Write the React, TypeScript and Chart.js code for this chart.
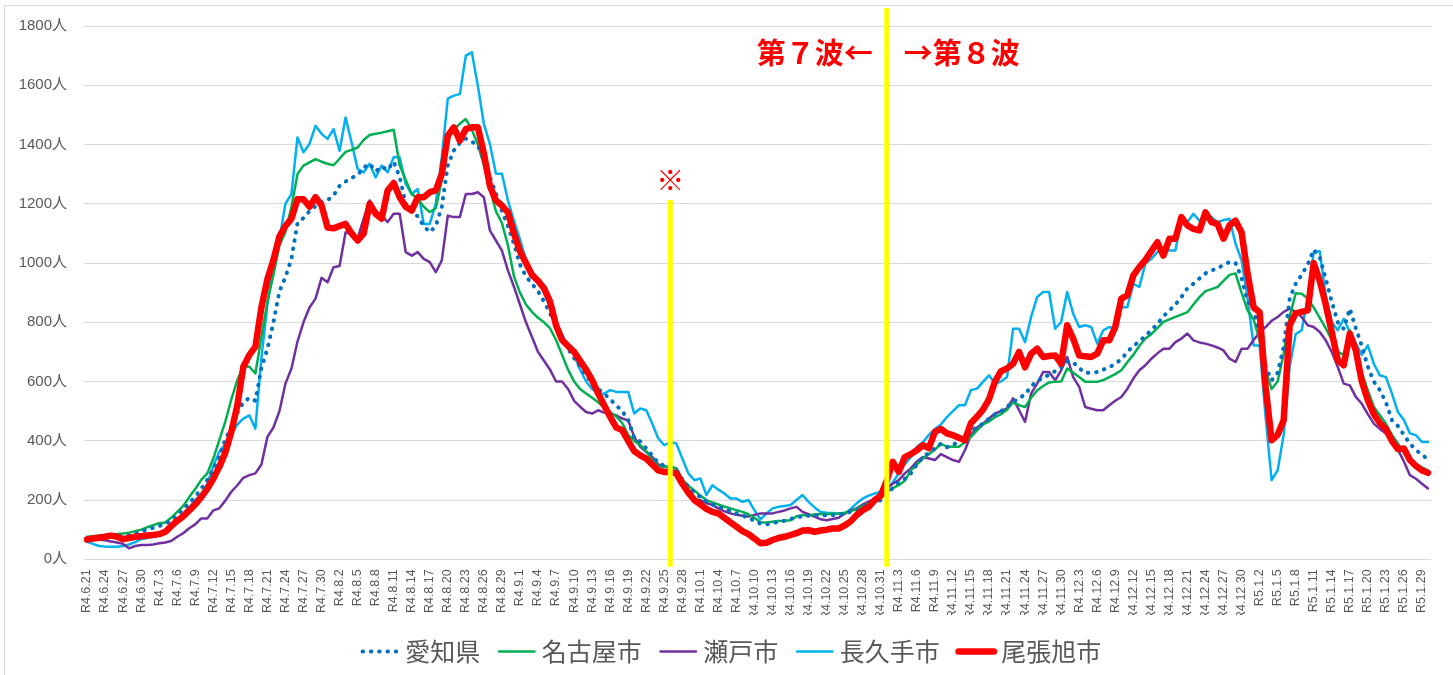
import React, { useEffect, useRef } from 'react';
import { Chart, registerables } from 'chart.js';

Chart.register(...registerables);

const FONT = '"Liberation Sans", "Noto Sans CJK JP", sans-serif';
const CJK = '"Noto Sans CJK JP", "Liberation Sans", sans-serif';
const TICK_COLOR = '#595959';

function buildDateLabels(): string[] {
  const out: string[] = [];
  const d = new Date(Date.UTC(2022, 5, 21));
  const end = new Date(Date.UTC(2023, 0, 30));
  while (d.getTime() <= end.getTime()) {
    out.push(`R${d.getUTCFullYear() - 2018}.${d.getUTCMonth() + 1}.${d.getUTCDate()}`);
    d.setUTCDate(d.getUTCDate() + 1);
  }
  return out;
}

const dateLabels = buildDateLabels();

const seriesNames = ['愛知県', '名古屋市', '瀬戸市', '長久手市', '尾張旭市'];

const aichi = [
  70, 72, 74, 75, 76, 78, 79, 81, 86, 93,
  100, 106, 112, 120, 130, 148, 170, 189, 212, 238,
  268, 305, 345, 405, 445, 495, 530, 545, 535, 645,
  710, 800, 905, 952, 1015, 1135, 1152, 1175, 1192, 1205,
  1212, 1228, 1260, 1275, 1287, 1297, 1322, 1335, 1310, 1325,
  1315, 1342, 1290, 1200, 1170, 1158, 1125, 1104, 1125, 1190,
  1330, 1380, 1405, 1420, 1410, 1396, 1350, 1290, 1235, 1175,
  1125, 1065, 995, 955, 930, 905, 870, 830, 790, 750,
  710, 680, 650, 620, 595, 575, 559, 540, 520, 500,
  470, 410, 398, 375, 350, 325, 316, 307, 302, 270,
  245, 225, 210, 195, 185, 177, 170, 163, 155, 148,
  140, 130, 120, 118, 122, 126, 130, 136, 142, 145,
  147, 149, 149, 149, 149, 151, 155, 160, 166, 176,
  186, 189, 200, 225, 240, 260, 272, 290, 320, 345,
  360, 375, 390, 378, 385, 400, 413, 435, 445, 458,
  475, 490, 500, 515, 530, 545, 555, 585, 600, 615,
  622, 635, 648, 668, 665, 645, 629, 630, 632, 640,
  648, 660, 675, 700, 720, 735, 755, 773, 795, 820,
  840, 860, 885, 915, 930, 948, 965, 975, 981, 995,
  1003, 1000, 950, 870, 848, 760, 650, 604, 630, 717,
  880, 930, 960, 995, 1045, 1020, 947, 870, 800, 778,
  846, 780, 720, 650, 600, 571, 530, 470, 450, 420,
  390, 370, 351, 340,
];

const nagoya = [
  76, 78, 80, 82, 83, 85, 87, 90, 95, 100,
  108, 115, 122, 124, 140, 160, 180, 210, 237, 268,
  290, 340, 402, 465, 540, 605, 650, 650, 627, 750,
  870, 960, 1060, 1105, 1190, 1300, 1329, 1340, 1351, 1342,
  1335, 1330, 1352, 1375, 1382, 1390, 1415, 1432, 1436, 1440,
  1445, 1450, 1330, 1280, 1233, 1217, 1190, 1172, 1185, 1280,
  1415, 1450, 1470, 1486, 1450, 1400, 1330, 1250, 1175, 1135,
  1060, 955, 900, 860, 835, 815, 800, 780, 740, 690,
  640, 600, 575, 560, 545, 530, 512, 497, 482, 460,
  420, 400, 385, 365, 335, 315, 312, 315, 305, 270,
  248, 232, 215, 200, 192, 185, 178, 172, 166, 160,
  152, 140, 125, 124, 127, 129, 130, 132, 145, 149,
  149, 151, 153, 153, 154, 155, 157, 162, 170, 180,
  189, 200, 215, 228, 240, 250, 265, 300, 320, 340,
  355, 370, 390, 380, 380, 380, 395, 413, 435, 455,
  465, 480, 490, 505, 530, 520, 514, 545, 570, 585,
  597, 599, 600, 644, 630, 615, 599, 599, 599, 605,
  615, 625, 638, 665, 690, 720, 745, 760, 780, 801,
  810, 818, 826, 834, 860, 885, 905, 912, 919, 940,
  960, 965, 900, 840, 810, 740, 638, 575, 600, 694,
  820, 898, 896, 880, 850, 815, 780, 740, 700, 690,
  773, 700, 630, 570, 514, 486, 458, 420, 391, 360,
  335, 322, 310, 300,
];

const seto = [
  71, 69, 66, 64, 60, 57, 52, 37, 45, 48,
  48, 50, 54, 57, 62, 76, 88, 105, 118, 138,
  138, 165, 172, 198, 228, 250, 275, 284, 290, 320,
  413, 445, 500, 593, 644, 735, 800, 850, 880, 950,
  935, 986, 990, 1104, 1099, 1082, 1150, 1211, 1177, 1160,
  1138, 1166, 1166, 1037, 1025, 1037, 1014, 1003, 969, 1009,
  1160, 1155, 1155, 1233, 1233, 1239, 1222, 1110, 1076, 1042,
  975, 920, 860, 800, 750, 700, 670, 640, 600, 600,
  575, 535, 515, 497, 492, 503, 495, 490, 486, 475,
  469, 413, 380, 363, 345, 320, 312, 310, 307, 270,
  233, 194, 200, 190, 183, 172, 162, 155, 150, 147,
  144, 150, 155, 155, 155, 160, 165, 172, 177, 160,
  152, 144, 135, 132, 136, 140, 155, 165, 172, 185,
  195, 205, 222, 240, 255, 267, 290, 307, 330, 345,
  340, 335, 355, 345, 335, 329, 368, 420, 445, 458,
  475, 492, 500, 509, 543, 503, 464, 559, 593, 632,
  632, 604, 638, 683, 615, 582, 514, 508, 503, 503,
  520, 535, 548, 575, 610, 638, 655, 677, 695, 711,
  711, 733, 745, 762, 739, 732, 728, 722, 715, 705,
  677, 666, 711, 711, 740, 765, 784, 805, 818, 835,
  846, 835, 818, 790, 784, 767, 739, 700, 649, 593,
  587, 548, 525, 490, 458, 440, 425, 396, 370, 330,
  284, 272, 255, 239,
];

const nagakute = [
  59, 52, 45, 43, 42, 42, 45, 50, 58, 68,
  72, 76, 85, 100, 118, 135, 155, 175, 200, 218,
  255, 315, 362, 390, 420, 455, 475, 486, 441, 680,
  860, 990, 1080, 1200, 1233, 1424, 1374, 1402, 1463, 1436,
  1419, 1452, 1379, 1491, 1407, 1318, 1306, 1335, 1289, 1329,
  1306, 1357, 1357, 1267, 1233, 1250, 1132, 1132, 1200, 1357,
  1555, 1565, 1570, 1700, 1711, 1598, 1469, 1402, 1301, 1301,
  1211, 1143, 1080, 1010, 970, 940, 900, 850, 800, 760,
  720, 690, 640, 600, 575, 560, 559, 571, 565, 565,
  565, 492, 509, 503, 458, 408, 385, 396, 391, 340,
  290, 267, 273, 217, 250, 235, 222, 205, 205, 194,
  200, 165, 135, 155, 172, 177, 180, 183, 200, 217,
  194, 175, 160, 157, 156, 155, 153, 170, 189, 205,
  215, 222, 228, 240, 260, 290, 320, 345, 380, 395,
  420, 440, 455, 480, 500, 520, 520, 571, 576, 599,
  621, 593, 600, 615, 778, 778, 733, 818, 885, 902,
  902, 778, 801, 902, 829, 784, 790, 784, 728, 773,
  784, 778, 851, 851, 930, 919, 998, 1014, 1037, 1042,
  1042, 1042, 1149, 1138, 1166, 1143, 1149, 1155, 1138, 1145,
  1149, 1065, 1010, 880, 722, 722, 480, 267, 300, 420,
  650, 760, 773, 880, 1037, 1040, 890, 800, 773, 812,
  767, 730, 690, 722, 660, 621, 615, 560, 497, 470,
  425, 419, 396, 396,
];

const owariasahi = [
  67, 70, 73, 76, 80, 76, 68, 72, 76, 78,
  80, 82, 85, 92, 112, 130, 145, 165, 185, 210,
  238, 272, 312, 360, 430, 520, 650, 690, 717, 850,
  945, 1010, 1090, 1125, 1150, 1215, 1215, 1190, 1222, 1195,
  1120, 1117, 1125, 1132, 1100, 1076, 1099, 1200, 1166, 1150,
  1245, 1270, 1222, 1190, 1177, 1222, 1222, 1239, 1245, 1300,
  1430, 1458, 1413, 1452, 1458, 1458, 1370, 1260, 1211, 1194,
  1171, 1100, 1040, 1000, 960, 940, 915, 870, 790, 740,
  720, 700, 670, 640, 605, 560, 520, 481, 445, 436,
  400, 365, 351, 340, 320, 300, 295, 295, 290, 255,
  225, 200, 185, 170, 160, 155, 140, 125, 110, 95,
  85, 70, 54, 56, 65, 72, 76, 82, 88, 97,
  98, 93, 97, 100, 104, 104, 114, 128, 150, 166,
  177, 200, 215, 265, 329, 295, 345, 355, 368, 385,
  375, 430, 440, 425, 419, 410, 402, 460, 481, 505,
  540, 600, 635, 644, 660, 700, 648, 694, 711, 683,
  686, 688, 660, 790, 745, 688, 685, 683, 694, 739,
  739, 784, 880, 891, 958, 986, 1010, 1040, 1070, 1025,
  1082, 1082, 1155, 1127, 1115, 1110, 1171, 1138, 1132, 1082,
  1127, 1143, 1104, 964, 851, 834, 582, 402, 420, 469,
  790, 830, 835, 840, 1000, 940, 860, 767, 672, 655,
  762, 705, 600, 537, 490, 460, 440, 400, 372, 374,
  335, 315, 300, 292,
];

const Y_MIN = 0;
const Y_MAX = 1800;
const Y_STEP = 200;
const Y_UNIT = '人';

const NOTE_DATE = 'R4.9.26';
const WAVE_DATE = 'R4.11.1';
const NOTE_TEXT = '※';
const WAVE7_TEXT = '第７波←';
const WAVE8_TEXT = '→第８波';

const marksPlugin = {
  id: 'waveMarks',
  afterLayout(chart: any) {
    // shift the legend row to the same horizontal centre as the reference
    if (chart.legend) {
      chart.legend.left = 31;
    }
  },
  afterDatasetsDraw(chart: any) {
    const { ctx, chartArea, scales } = chart;
    const xs = scales.x;
    const x1 = xs.getPixelForValue(dateLabels.indexOf(NOTE_DATE));
    const x2 = xs.getPixelForValue(dateLabels.indexOf(WAVE_DATE));
    ctx.save();
    ctx.strokeStyle = '#FFFF00';
    ctx.lineWidth = 5;
    ctx.lineCap = 'butt';
    ctx.beginPath();
    ctx.moveTo(x1, chartArea.top + 174);
    ctx.lineTo(x1, chartArea.bottom + 7.5);
    ctx.moveTo(x2, chartArea.top - 18);
    ctx.lineTo(x2, chartArea.bottom + 7.5);
    ctx.stroke();

    ctx.fillStyle = '#FF0000';
    ctx.textBaseline = 'middle';
    ctx.font = `bold 29px ${CJK}`;
    ctx.textAlign = 'right';
    ctx.fillText(WAVE7_TEXT, x2 - 14, chartArea.top + 27);
    ctx.textAlign = 'left';
    ctx.fillText(WAVE8_TEXT, x2 + 17, chartArea.top + 27);
    ctx.font = `28px ${CJK}`;
    ctx.textAlign = 'center';
    ctx.fillText(NOTE_TEXT, x1, chartArea.top + 154);
    ctx.restore();
  },
};

export default function App() {
  const ref = useRef<HTMLCanvasElement>(null);

  useEffect(() => {
    const canvas = ref.current;
    if (!canvas) return;
    const base = {
      pointRadius: 0,
      pointHoverRadius: 0,
      tension: 0,
      fill: false,
      borderCapStyle: 'round' as const,
      borderJoinStyle: 'round' as const,
    };
    const chart = new Chart(canvas, {
      type: 'line',
      data: {
        labels: dateLabels,
        datasets: [
          { ...base, label: seriesNames[0], data: aichi, borderColor: '#0070C0', backgroundColor: '#0070C0', borderWidth: 4, borderDash: [0.5, 7.8], order: 1 },
          { ...base, label: seriesNames[1], data: nagoya, borderColor: '#00B050', backgroundColor: '#00B050', borderWidth: 2.5, order: 2 },
          { ...base, label: seriesNames[2], data: seto, borderColor: '#7030A0', backgroundColor: '#7030A0', borderWidth: 2.5, order: 3 },
          { ...base, label: seriesNames[3], data: nagakute, borderColor: '#00B0F0', backgroundColor: '#00B0F0', borderWidth: 2.5, order: 4 },
          { ...base, label: seriesNames[4], data: owariasahi, borderColor: '#FF0000', backgroundColor: '#FF0000', borderWidth: 6.5, order: 0 },
        ],
      },
      options: {
        responsive: false,
        animation: false,
        events: [],
        layout: { padding: { left: 0, right: 15, top: 25, bottom: 1 } },
        plugins: {
          legend: {
            position: 'bottom',
            align: 'center',
            labels: {
              usePointStyle: true,
              pointStyle: 'line',
              boxWidth: 25,
              boxHeight: 27,
              padding: 24,
              color: TICK_COLOR,
              font: { family: CJK, size: 25 },
              generateLabels: (c: any) => {
                const items = Chart.defaults.plugins.legend.labels.generateLabels(c);
                items.forEach((it: any) => {
                  const ds: any = c.data.datasets[it.datasetIndex];
                  it.lineDash = ds.borderDash || [];
                  it.lineCap = ds.borderCapStyle;
                  it.lineWidth = ds.borderWidth;
                  it.strokeStyle = ds.borderColor;
                });
                return items.sort((a: any, b: any) => a.datasetIndex - b.datasetIndex);
              },
            },
          },
          tooltip: { enabled: false },
          title: { display: false },
        },
        scales: {
          x: {
            type: 'category',
            offset: true,
            grid: { display: false, drawTicks: false },
            border: { display: false },
            ticks: {
              autoSkip: false,
              maxRotation: 90,
              minRotation: 90,
              padding: 10,
              color: TICK_COLOR,
              font: { family: FONT, size: 12.5 },
              callback: (_v: any, index: number) => (index % 3 === 0 ? dateLabels[index] : ''),
            },
            afterFit: (scale: any) => {
              scale.height = 55.7;
            },
          },
          y: {
            min: Y_MIN,
            max: Y_MAX,
            ticks: {
              stepSize: Y_STEP,
              padding: 17,
              color: TICK_COLOR,
              font: { family: FONT, size: 15 },
              callback: (v: any) => `${v}${Y_UNIT}`,
            },
            grid: { color: '#D9D9D9', lineWidth: 1, drawTicks: false },
            border: { display: false },
            afterFit: (scale: any) => {
              scale.width = 84;
            },
          },
        },
      },
      plugins: [marksPlugin],
    });
    return () => chart.destroy();
  }, []);

  return (
    <div style={{ position: 'fixed', left: 0, top: 0, width: 1453, height: 675, overflow: 'hidden', background: '#fff' }}>
      <div style={{ position: 'absolute', left: 4, top: 5, width: 1500, height: 720, border: '1px solid #D9D9D9', boxSizing: 'border-box' }} />
      <canvas ref={ref} width={1453} height={675} style={{ position: 'absolute', left: 0, top: 0, width: 1453, height: 675 }} />
    </div>
  );
}
